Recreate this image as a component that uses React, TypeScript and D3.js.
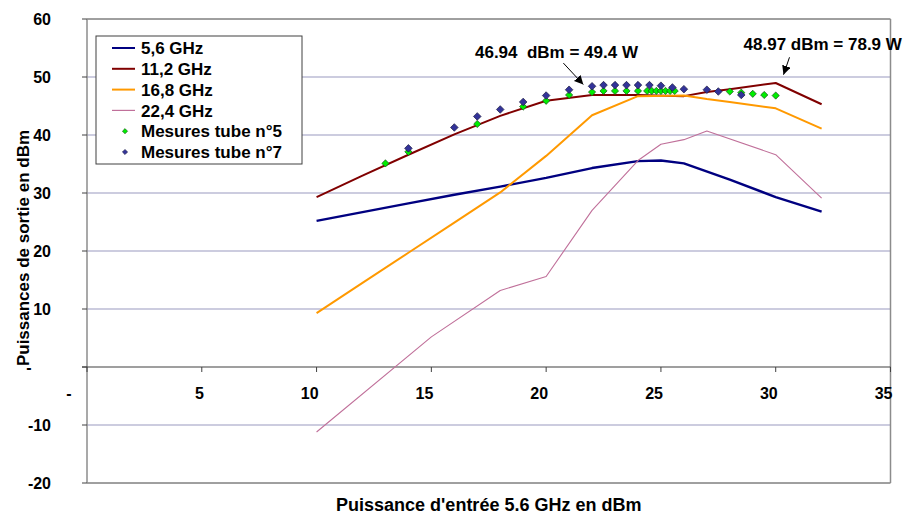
import React from "react";
import * as d3 from "d3";

// ---- Data ----
const x56 = [10, 12, 14, 16, 18, 20, 22, 24, 25, 26, 28, 30, 32];
const y56 = [25.2, 26.7, 28.2, 29.7, 31.1, 32.6, 34.3, 35.5, 35.6, 35.1, 32.3, 29.3, 26.8];

const x112 = [10, 12, 14, 16, 18, 20, 22, 24, 26, 27, 28, 30, 32];
const y112 = [29.3, 33.0, 36.6, 40.1, 43.3, 45.9, 46.9, 46.9, 46.7, 47.4, 47.9, 48.97, 45.3];

const x168 = [10, 12, 14, 16, 18, 20, 22, 24, 26, 27, 28, 30, 32];
const y168 = [9.3, 14.5, 19.7, 24.9, 30.1, 36.4, 43.4, 46.7, 46.8, 46.2, 45.7, 44.6, 41.1];

const x224 = [10, 15, 18, 20, 22, 24, 25, 26, 27, 30, 32];
const y224 = [-11.2, 5.2, 13.2, 15.6, 27.0, 35.6, 38.4, 39.2, 40.7, 36.6, 29.1];

const xTube5 = [13, 14, 17, 19, 20, 21, 22, 22.5, 23, 23.5, 24, 24.4, 24.6, 24.8, 25, 25.2, 25.4, 25.6, 28, 28.5, 29, 29.5, 30];
const yTube5 = [35.1, 37.1, 41.9, 44.9, 45.9, 46.9, 47.4, 47.6, 47.6, 47.6, 47.6, 47.6, 47.6, 47.6, 47.6, 47.6, 47.6, 47.6, 47.5, 47.3, 47.1, 46.9, 46.8];

const xTube7 = [14, 16, 17, 18, 19, 20, 21, 22, 22.5, 23, 23.5, 24, 24.5, 25, 25.5, 26, 27, 27.5, 28.5];
const yTube7 = [37.7, 41.3, 43.2, 44.4, 45.7, 46.8, 47.8, 48.4, 48.6, 48.6, 48.6, 48.6, 48.6, 48.5, 48.2, 47.9, 47.8, 47.5, 46.9];

const xTicks = [0, 5, 10, 15, 20, 25, 30, 35];
const yTicks = [-20, -10, 0, 10, 20, 30, 40, 50, 60];

const seriesNames = ["5,6 GHz", "11,2 GHz", "16,8 GHz", "22,4 GHz", "Mesures tube n°5", "Mesures tube n°7"];

const annotationTexts = ["46.94  dBm = 49.4 W", "48.97 dBm = 78.9 W"];
const annotationTextPos = [[16.9, 54.3], [28.6, 55.6]];
const annotationArrowFrom = [[20.75, 52.4], [30.6, 53.4]];
const annotationArrowTo = [[21.62, 48.7], [30.34, 50.4]];

const FONT = "'Liberation Sans', Arial, sans-serif";

export default function App() {
  const W = 905, H = 515;
  const left = 87, right = 890.5, top = 19, bottom = 483;
  const x = d3.scaleLinear().domain([0, 35]).range([left, right]);
  const y = d3.scaleLinear().domain([-20, 60]).range([bottom, top]);

  const line = d3.line<[number, number]>().x((d) => x(d[0])).y((d) => y(d[1]));
  const zip = (xs: number[], ys: number[]) => xs.map((v, i) => [v, ys[i]] as [number, number]);

  const lines = [
    { xs: x56, ys: y56, color: "#000080", w: 2.4 },
    { xs: x112, ys: y112, color: "#800000", w: 2 },
    { xs: x168, ys: y168, color: "#FF9900", w: 2 },
    { xs: x224, ys: y224, color: "#C0709A", w: 1.1 },
  ];

  const diamond = (cx: number, cy: number, r: number) =>
    `M${cx},${cy - r}L${cx + r},${cy}L${cx},${cy + r}L${cx - r},${cy}Z`;

  const legendX = 96, legendY = 36, legendW = 206, legendH = 128;
  const legRow = (i: number) => 48 + i * 20.8;

  return (
    <svg width={W} height={H} style={{ position: "absolute", left: 0, top: 0, background: "#fff" }} fontFamily={FONT}>
      <defs>
        <marker id="ah" viewBox="0 0 10 10" refX="10" refY="5" markerWidth="9" markerHeight="9" markerUnits="userSpaceOnUse" orient="auto">
          <path d="M0,0L10,5L0,10Z" fill="#000" />
        </marker>
      </defs>
      <rect x={0} y={0} width={W} height={H} fill="#fff" />
      {/* gridlines */}
      {yTicks.filter((t) => t !== 0 && t !== 60 && t !== -20).map((t) => (
        <line key={"g" + t} x1={left} x2={right} y1={y(t)} y2={y(t)} stroke="#9A9AC0" strokeWidth={1.2} />
      ))}
      {/* top/bottom frame */}
      <line x1={left} x2={right} y1={y(60)} y2={y(60)} stroke="#404040" strokeWidth={1} />
      <line x1={left} x2={right} y1={y(-20)} y2={y(-20)} stroke="#404040" strokeWidth={1} />
      <line x1={right} x2={right} y1={top} y2={bottom} stroke="#8c8c8c" strokeWidth={1.5} />
      {/* y axis */}
      <line x1={left} x2={left} y1={top} y2={bottom} stroke="#8c8c8c" strokeWidth={1.5} />
      {yTicks.map((t) => (
        <line key={"yt" + t} x1={left - 5} x2={left} y1={y(t)} y2={y(t)} stroke="#404040" strokeWidth={1} />
      ))}
      {/* x axis at 0 */}
      <line x1={left - 5} x2={right} y1={y(0)} y2={y(0)} stroke="#404040" strokeWidth={1.2} />
      {xTicks.map((t) => (
        <line key={"xt" + t} x1={x(t)} x2={x(t)} y1={y(0)} y2={y(0) + 5} stroke="#404040" strokeWidth={1} />
      ))}
      {/* tick labels */}
      {yTicks.map((t) =>
        t === 0 ? (
          <text key={"yl" + t} x={29} y={y(t)} dy="0.35em" textAnchor="middle" fontSize={16} fontWeight="bold">-</text>
        ) : (
          <text key={"yl" + t} x={51} y={y(t)} dy="0.35em" textAnchor="end" fontSize={16} fontWeight="bold">{t}</text>
        )
      )}
      {xTicks.map((t) =>
        t === 0 ? (
          <text key={"xl" + t} x={69} y={y(0) + 26} dy="0.35em" textAnchor="middle" fontSize={16} fontWeight="bold">-</text>
        ) : (
          <text key={"xl" + t} x={x(t) + 2} y={y(0) + 26} dy="0.35em" textAnchor="end" fontSize={16} fontWeight="bold">{t}</text>
        )
      )}
      {/* axis titles */}
      <text x={(left + right) / 2} y={505} dy="0.35em" textAnchor="middle" fontSize={18} fontWeight="bold">
        Puissance d'entrée 5.6 GHz en dBm
      </text>
      <text transform={`translate(23,${(top + bottom) / 2 - 3}) rotate(-90)`} textAnchor="middle" dy="0.35em" fontSize={17} fontWeight="bold">
        Puissances de sortie en dBm
      </text>
      {/* series lines */}
      {lines.map((s, i) => (
        <path key={"l" + i} d={line(zip(s.xs, s.ys)) || ""} fill="none" stroke={s.color} strokeWidth={s.w} strokeLinejoin="round" />
      ))}
      {/* measurement points */}
      {zip(xTube5, yTube5).map((p, i) => (
        <path key={"m5" + i} d={diamond(x(p[0]), y(p[1]), 3.6)} fill="#00EE00" stroke="#1a4a1a" strokeWidth={0.7} />
      ))}
      {zip(xTube7, yTube7).map((p, i) => (
        <path key={"m7" + i} d={diamond(x(p[0]), y(p[1]), 3.8)} fill="#333399" stroke="#1a1a40" strokeWidth={0.7} />
      ))}
      {/* annotations */}
      {annotationTexts.map((t, i) => (
        <g key={"a" + i}>
          <text x={x(annotationTextPos[i][0])} y={y(annotationTextPos[i][1])} dy="0.35em" fontSize={17} fontWeight="bold" style={{ whiteSpace: "pre" }} xmlSpace="preserve">{t}</text>
          <line
            x1={x(annotationArrowFrom[i][0])} y1={y(annotationArrowFrom[i][1])}
            x2={x(annotationArrowTo[i][0])} y2={y(annotationArrowTo[i][1])}
            stroke="#000" strokeWidth={1} markerEnd="url(#ah)"
          />
        </g>
      ))}
      {/* legend */}
      <rect x={legendX} y={legendY} width={legendW} height={legendH} fill="#fff" stroke="#404040" strokeWidth={1} />
      {seriesNames.map((n, i) => (
        <g key={"lg" + i}>
          {i < 4 ? (
            <line x1={112} x2={135} y1={legRow(i)} y2={legRow(i)} stroke={lines[i].color} strokeWidth={i === 3 ? 1.2 : 2} />
          ) : (
            <path d={diamond(125, legRow(i), 2.6)} fill={i === 4 ? "#00EE00" : "#333399"} stroke={i === 4 ? "#1a4a1a" : "#1a1a40"} strokeWidth={0.6} />
          )}
          <text x={141} y={legRow(i)} dy="0.36em" fontSize={17} fontWeight="bold">{n}</text>
        </g>
      ))}
    </svg>
  );
}
